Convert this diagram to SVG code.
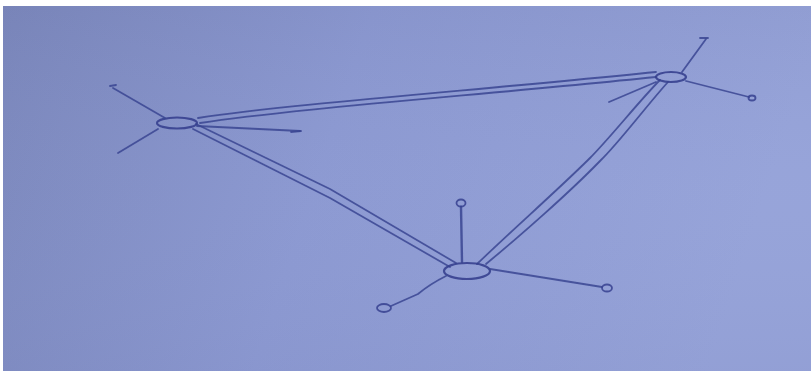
<svg xmlns="http://www.w3.org/2000/svg" width="811" height="372" viewBox="0 0 811 372">
<defs>
<linearGradient id="bg" x1="0" y1="0" x2="1" y2="0.15">
<stop offset="0" stop-color="#7a86ba"/>
<stop offset="0.45" stop-color="#8c99d1"/>
<stop offset="1" stop-color="#97a4d9"/>
</linearGradient>
<linearGradient id="shade" x1="0" y1="0" x2="0" y2="1">
<stop offset="0" stop-color="#6f7ab0" stop-opacity="0.15"/>
<stop offset="0.5" stop-color="#9aa8e0" stop-opacity="0.05"/>
<stop offset="1" stop-color="#7a86c0" stop-opacity="0.15"/>
</linearGradient>
<filter id="soft" x="-5%" y="-5%" width="110%" height="110%"><feGaussianBlur stdDeviation="0.6"/></filter>
</defs>
<style>
.ln{fill:none;stroke:#3a4592;stroke-width:1.8;stroke-linecap:round;stroke-linejoin:round;opacity:0.85}
.hub{fill:none;stroke:#36418f;stroke-width:2.2;opacity:0.9}
.end{fill:none;stroke:#36418f;stroke-width:1.8;opacity:0.85}
</style>
<rect width="811" height="372" fill="#ffffff"/>
<rect x="3" y="6" width="808" height="365" fill="url(#bg)"/>
<rect x="3" y="6" width="808" height="365" fill="url(#shade)"/>
<g filter="url(#soft)">
<g id="connectors">
<path class="ln" d="M198,118 C290,104 480,90 656,72"/>
<path class="ln" d="M200,123 C290,109 480,95 656,77"/>
<path class="ln" d="M196,124 L330,189 L456,263"/>
<path class="ln" d="M193,129 L330,198 L450,267"/>
<path class="ln" d="M660,80 C640,100 610,138 590,158 C560,188 510,232 477,264"/>
<path class="ln" d="M668,82 C648,104 618,144 600,161 C570,192 520,236 486,264"/>
</g>
<g id="node-left">
<ellipse class="hub" cx="177" cy="123" rx="20" ry="5.5"/>
<line class="ln" x1="165" y1="118" x2="113" y2="88"/>
<line class="ln" x1="110" y1="86" x2="116" y2="85"/>
<line class="ln" x1="158" y1="129" x2="118" y2="153"/>
<line class="ln" x1="197" y1="126" x2="300" y2="131"/>
<line class="ln" x1="291" y1="132" x2="301" y2="131"/>
</g>
<g id="node-topright">
<ellipse class="hub" cx="671" cy="77" rx="15" ry="5"/>
<line class="ln" x1="682" y1="72" x2="706" y2="39"/>
<line class="ln" x1="700" y1="38" x2="708" y2="38"/>
<line class="ln" x1="686" y1="81" x2="749" y2="97"/>
<ellipse class="end" cx="752" cy="98" rx="3.5" ry="2.5"/>
<line class="ln" x1="656" y1="82" x2="609" y2="102"/>
</g>
<g id="node-bottom">
<ellipse class="hub" cx="467" cy="271" rx="23" ry="8"/>
<line class="ln" x1="462" y1="262" x2="461" y2="207" style="stroke-width:2.4"/>
<ellipse class="end" cx="461" cy="203" rx="4.5" ry="3.5"/>
<line class="ln" x1="490" y1="269" x2="602" y2="287"/>
<ellipse class="end" cx="607" cy="288" rx="5" ry="3.5"/>
<path class="ln" d="M446,276 Q430,284 418,294 L391,306"/>
<ellipse class="end" cx="384" cy="308" rx="7" ry="4"/>
</g>
</g>
</svg>
